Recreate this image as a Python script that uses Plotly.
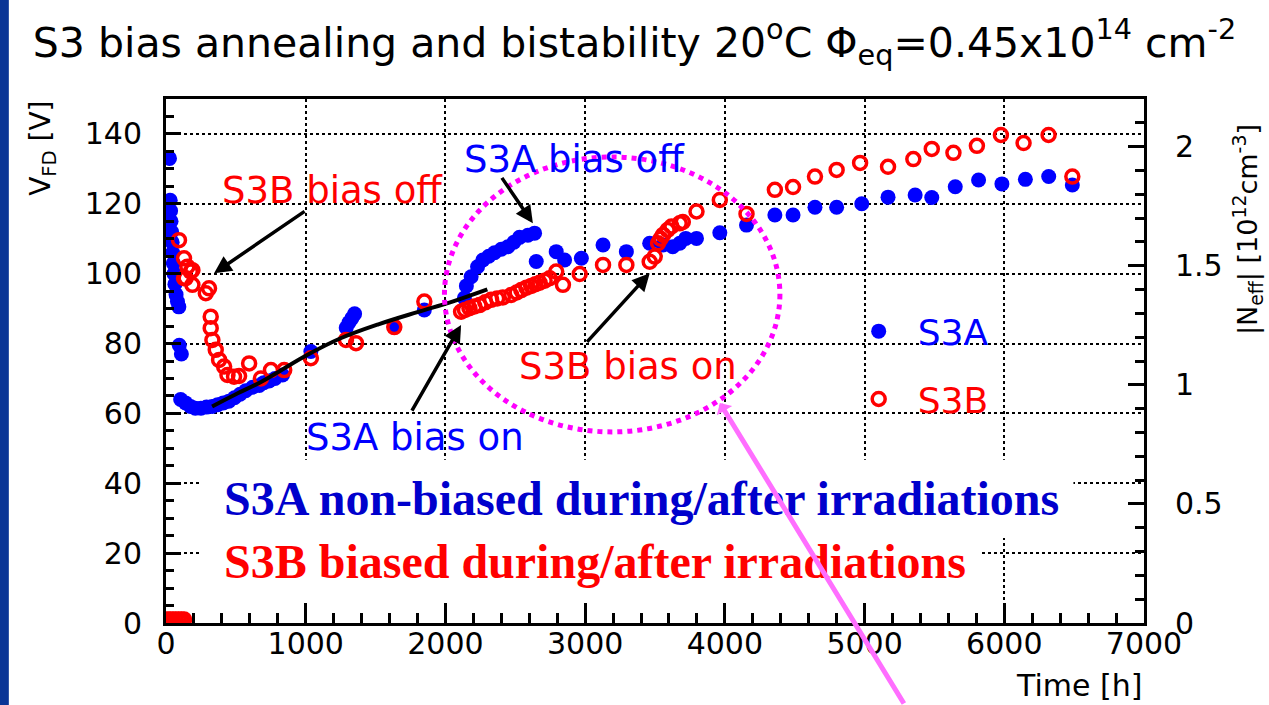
import plotly.graph_objects as go

# ---------------- data ----------------
s3a_time = [25, 30, 33, 36, 40, 44, 48, 53, 58, 64, 72, 82, 92, 95, 110,
            105, 140, 175, 210, 250, 290, 330, 370, 410, 450, 490, 530, 570,
            620, 667, 700, 738, 780, 834, 1037, 1290, 1310, 1330, 1350, 1634,
            1849, 2136, 2150, 2184, 2230, 2268, 2310, 2351, 2400, 2447, 2490,
            2530, 2590, 2638, 2650, 2793, 2853, 2973, 3128, 3295, 3462, 3558,
            3627, 3677, 3720, 3797, 3964, 4155, 4358, 4488, 4645, 4800, 4980,
            5168, 5362, 5481, 5649, 5816, 5983, 6151, 6318, 6487]
s3a_vfd = [133, 121, 118, 115, 112, 109, 106, 103, 100, 97, 94, 92, 90.5, 79.5, 77,
           64, 63, 62, 61.5, 61.5, 61.8, 62, 62.5, 63, 63.5, 64.5, 65.5, 66.5,
           67.5, 68, 68.8, 69.3, 70, 71, 77.7, 84.5, 86, 87.2, 88.5, 84.7,
           89.6, 93, 96.5, 99.1, 102, 103.9, 105, 106, 107, 107.7, 109,
           110.4, 111, 111.6, 103.5, 106.3, 103.9, 104.4, 108.2, 106.3, 108.7, 108.2,
           107.7, 108.7, 110.1, 110.1, 111.7, 113.9, 116.8, 116.8, 119, 119, 120,
           121.9, 122.5, 121.8, 124.9, 126.8, 125.7, 127, 127.8, 125.4]

s3b_time = [10, 30, 50, 70, 90, 110, 130,
            93, 129, 129, 141, 153, 177, 189, 189, 285, 308, 320, 320, 332, 356,
            380, 416, 440, 487, 523, 595, 679, 751, 846, 1037, 1288, 1360, 1634,
            1849, 2112, 2140, 2172, 2208, 2244, 2285, 2327, 2370, 2411, 2471,
            2510, 2543, 2580, 2614, 2645, 2674, 2710, 2746, 2793, 2841, 2961,
            3128, 3295, 3462, 3498, 3522, 3540, 3558, 3590, 3618, 3677, 3699,
            3797, 3964, 4155, 4358, 4488, 4645, 4800, 4968, 5168, 5349, 5481,
            5636, 5804, 5976, 6138, 6317, 6487]
s3b_vfd = [1, 1, 1, 1, 1, 1, 1,
           109.6, 104.4, 98.7, 98.7, 102, 100.6, 101, 96.8, 94.4, 95.8, 87.7, 84.4, 81, 78.2,
           75.3, 73.4, 71, 70.5, 70.7, 74.3, 70, 72.4, 72.4, 75.8, 81, 80.1, 84.7,
           92, 89.1, 89.6, 90.1, 90.6, 91, 91.8, 92.5, 92.9, 93.2, 93.9,
           94.6, 95.3, 96, 96.5, 97, 97.4, 98, 98.7, 100.6, 96.8, 99.9,
           102.5, 102.5, 103.4, 104.9, 108.7, 110, 111.1, 112.5, 113.5, 114.4, 114.8,
           117.8, 121.1, 117.1, 124, 124.8, 127.8, 129.7, 131.7, 130.6, 132.8, 135.7,
           134.6, 136.6, 139.7, 137.4, 139.7, 127.8]

fit_time = [330, 500, 670, 830, 1000, 1250, 1520, 1800, 2050, 2300]
fit_vfd = [62, 65.5, 68.8, 72.5, 76.5, 81.5, 85.5, 89, 92, 95.5]

x_ticks = [0, 1000, 2000, 3000, 4000, 5000, 6000, 7000]
y_ticks = [0, 20, 40, 60, 80, 100, 120, 140]
y2_ticks = [0, 0.5, 1, 1.5, 2]

BLUE = "#0000ff"
RED = "#ff0000"
SANS = "DejaVu Sans"
SERIF = "Liberation Serif"

fig = go.Figure()
fig.add_trace(go.Scatter(x=s3a_time, y=s3a_vfd, mode="markers",
                         name="<span style='color:#0000ff'>S3A</span>",
                         legendgroup="a",
                         marker=dict(symbol="circle", size=15, color=BLUE)))
fig.add_trace(go.Scatter(x=s3b_time, y=s3b_vfd, mode="markers",
                         name="<span style='color:#ff0000'>S3B</span>",
                         legendgroup="b",
                         marker=dict(symbol="circle-open", size=13, color=RED,
                                     line=dict(width=3.5, color=RED))))
fig.add_trace(go.Scatter(x=fit_time, y=fit_vfd, mode="lines", showlegend=False,
                         line=dict(color="black", width=4, shape="spline")))
fig.add_trace(go.Scatter(x=[], y=[], yaxis="y2", showlegend=False))

axis_common = dict(ticks="inside", tickcolor="black", tickwidth=2.5,
                   showline=True, linecolor="black", linewidth=3,
                   zeroline=False, tickfont=dict(family=SANS, size=30, color="black"))

fig.update_layout(
    width=1269, height=705,
    margin=dict(l=166, r=125, t=99, b=82),
    paper_bgcolor="white", plot_bgcolor="white",
    title=dict(text="S3 bias annealing and bistability 20<sup>o</sup>C Φ<sub>eq</sub>=0.45x10<sup>14</sup> cm<sup>-2</sup>",
               x=0.5, xanchor="center", y=0.94, yanchor="middle",
               font=dict(family=SANS, size=41, color="black")),
    xaxis=dict(range=[0, 7000], tickvals=x_ticks, ticklen=20, mirror=True,
               showgrid=True, gridcolor="black", gridwidth=2, griddash="3px,3px",
               minor=dict(dtick=200, tick0=0, ticks="inside", ticklen=10,
                          tickwidth=2.5, tickcolor="black", showgrid=False),
               ticklabelstandoff=-8, **axis_common),
    yaxis=dict(range=[0, 150], tickvals=y_ticks, ticklen=15, mirror=True,
               showgrid=True, gridcolor="black", gridwidth=2, griddash="3px,3px",
               minor=dict(dtick=5, tick0=0, ticks="inside", ticklen=8,
                          tickwidth=2.5, tickcolor="black", showgrid=False),
               ticklabelstandoff=15, **axis_common),
    yaxis2=dict(range=[0, 2.2], tickvals=y2_ticks, overlaying="y", side="right",
                anchor="x", ticklen=16, showgrid=False,
                minor=dict(dtick=0.1, tick0=0, ticks="inside", ticklen=9,
                           tickwidth=2.5, tickcolor="black", showgrid=False),
                ticklabelstandoff=22, **axis_common),
    legend=dict(x=(839 - 166) / 977, y=0.614, xanchor="left", yanchor="top",
                bgcolor="rgba(0,0,0,0)", borderwidth=0, tracegroupgap=18,
                itemwidth=68,
                font=dict(family=SANS, size=36)),
    showlegend=True,
)

# slide strip at far left
fig.add_shape(type="rect", xref="paper", yref="paper", x0=-0.2, x1=(9 - 166) / 977,
              y0=-0.3, y1=1.3, fillcolor="#0a3596", line=dict(width=0), layer="below")

# white boxes behind the explanatory text
fig.add_shape(type="rect", x0=244, x1=6495, y0=24.3, y1=46.7,
              fillcolor="white", line=dict(width=0), layer="above")
fig.add_shape(type="rect", x0=244, x1=5828, y0=6.6, y1=24.3,
              fillcolor="white", line=dict(width=0), layer="above")
# dotted magenta ellipse
fig.add_shape(type="circle", x0=1993, x1=4394, y0=54.7, y1=133.4,
              line=dict(color="#ff00ff", width=5, dash="5px,5px"), layer="above")

def txt(x, y, s, color, size=37, family=SANS, xanchor="center"):
    fig.add_annotation(x=x, y=y, text=s, showarrow=False, xanchor=xanchor,
                       yanchor="middle", font=dict(family=family, size=size, color=color))

txt(1190, 123.7, "S3B bias off", RED)
txt(2925, 132.8, "S3A bias off", BLUE)
txt(1785, 53.2, "S3A bias on", BLUE)
txt(3305, 73.3, "S3B bias on", RED)
txt(401, 35.5, "<b>S3A non-biased during/after irradiations</b>", "#0000cc", 48, SERIF, "left")
txt(401, 17.7, "<b>S3B biased during/after irradiations</b>", RED, 48, SERIF, "left")

def arrow(x, y, ax, ay, color="black", width=3.5, head=2, size=1.0):
    fig.add_annotation(x=x, y=y, ax=ax, ay=ay, text="", showarrow=True,
                       arrowhead=head, arrowsize=size, arrowwidth=width,
                       arrowcolor=color, standoff=0)

arrow(344, 100.1, 92, -63)
arrow(2626, 114.4, -32, -47)
arrow(2112, 85.3, -50, 87)
arrow(3462, 100.1, -64, 70)
arrow(3964, 63, 185, 304, color="#ff6eff", width=5, head=1, size=0.6)

# axis titles
fig.add_annotation(xref="paper", yref="paper", x=(42 - 166) / 977, y=(623 - 148) / 524,
                   xanchor="center", yanchor="middle",
                   text="V<sub>FD</sub> [V]", textangle=-90, showarrow=False,
                   font=dict(family=SANS, size=28, color="black"))
fig.add_annotation(xref="paper", yref="paper", x=(1246 - 166) / 977, y=(623 - 230) / 524,
                   xanchor="center", yanchor="middle",
                   text="|N<sub>eff</sub>| [10<sup>12</sup>cm<sup>-3</sup>]", textangle=-90,
                   showarrow=False, font=dict(family=SANS, size=27, color="black"))
fig.add_annotation(xref="paper", yref="paper", x=1.0, y=(623 - 685) / 524,
                   xanchor="right", yanchor="middle", text="Time [h]", showarrow=False,
                   font=dict(family=SANS, size=30, color="black"))

fig.write_html("out.html")
